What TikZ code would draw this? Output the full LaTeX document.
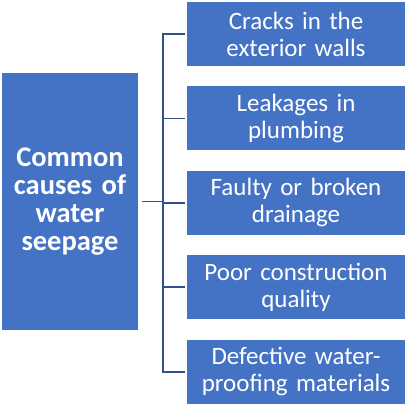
\documentclass[tikz,border=0pt]{standalone}
\usepackage{fontspec}
\setmainfont{Carlito}
\usetikzlibrary{positioning}
\definecolor{boxblue}{HTML}{4472C4}
\definecolor{lineblue}{HTML}{2F528F}

\begin{document}
\begin{tikzpicture}[
        x=1pt, y=-1pt,
        box/.style={
            rectangle,
            fill=boxblue,
            text=white,
            inner sep=0pt,
            align=center,
            font=\fontsize{25}{27}\selectfont
        },
        topic/.style={
            box,
            minimum width=136pt,
            minimum height=257pt,
            text width=134pt,
            font=\fontsize{28.5}{28}\selectfont\bfseries
        },
        cause/.style={
            box,
            minimum width=218pt,
            minimum height=64pt,
            text width=216pt
        },
        link/.style={
            draw=lineblue,
            line width=1.8pt
        }
    ]
    \useasboundingbox (0,0) rectangle (408,405);
    % Main topic
    \node[topic] (main) at (70,201.5) {Common\\causes of\\water\\seepage};
    % Causes
    \node[cause] (c1) at (296,34) {Cracks in the\\exterior walls};
    \node[cause, below=20pt of c1] (c2) {Leakages in\\plumbing};
    \node[cause, below=20pt of c2] (c3) {Faulty or broken\\drainage};
    \node[cause, below=20pt of c3] (c4) {Poor construction\\quality};
    \node[cause, below=20pt of c4] (c5) {Defective water-\\proofing materials};
    % Tree connectors
    \coordinate (trunk) at (163,202);
    \foreach \i in {1,...,5}
        \draw[link, shorten <=4pt, shorten >=2pt] (main.east) -- (main.east -| trunk) |- (c\i.west);
\end{tikzpicture}
\end{document}
